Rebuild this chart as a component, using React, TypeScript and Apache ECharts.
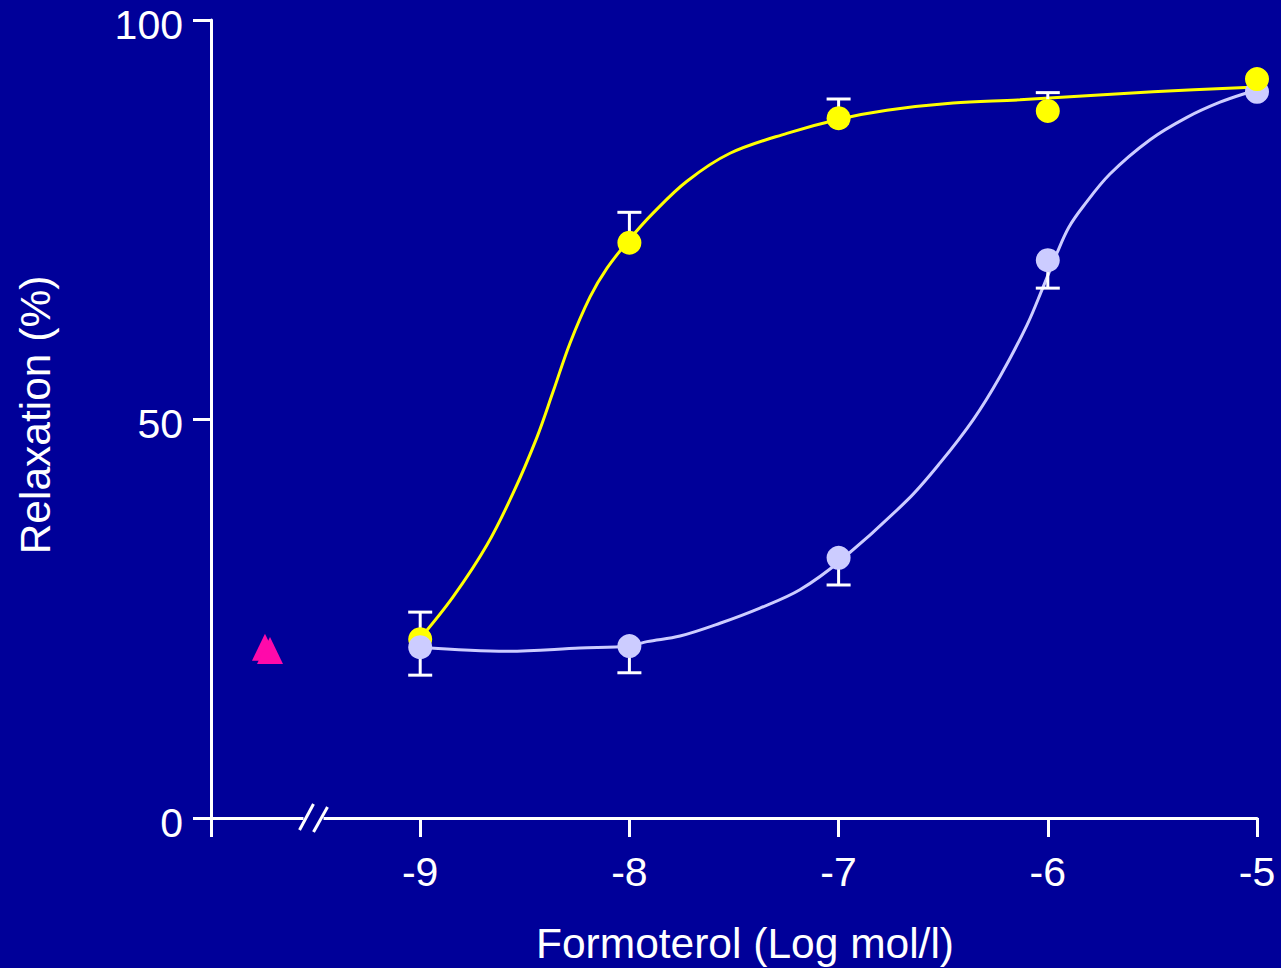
import React, { useEffect, useRef } from "react";
import * as echarts from "echarts";

// Mean points (log mol/l, % relaxation)
const doses = [-9, -8, -7, -6, -5];
const yellowMeans = [22.4, 72.1, 87.7, 88.6, 92.6];
const yellowUpper = [25.8, 75.9, 90.1, 90.9, null];
const lavenderMeans = [21.4, 21.55, 32.6, 69.9, 91.0];
const lavenderLower = [17.9, 18.2, 29.2, 66.4, null];

// Fitted curves
const yellowCurveX = [-9, -8.843, -8.681, -8.556, -8.442, -8.365, -8.284, -8.188, -8.107, -8.0, -7.887, -7.725, -7.519, -7.247, -6.993, -6.769, -6.453, -6.133, -5.497, -5.0];
const yellowCurveY = [22.5, 27.7, 34.2, 40.7, 47.7, 53.4, 59.5, 65.3, 68.9, 72.5, 75.8, 79.8, 83.3, 85.8, 87.6, 88.7, 89.6, 90.0, 91.0, 91.6];
const lavenderCurveX = [-9, -8.585, -8.236, -8.0, -7.916, -7.758, -7.567, -7.376, -7.185, -6.989, -6.673, -6.515, -6.357, -6.229, -6.099, -6.023, -5.956, -5.9, -5.832, -5.703, -5.511, -5.335, -5.177, -5.033, -5.0];
const lavenderCurveY = [21.4, 20.9, 21.3, 21.55, 22.1, 22.8, 24.4, 26.3, 28.6, 32.3, 39.8, 44.5, 49.9, 55.3, 61.8, 66.5, 70.8, 74.0, 76.6, 80.7, 85.0, 87.8, 89.7, 91.0, 91.2];

// Baseline (triangle markers)
const baselineX = [-9.742, -9.718];
const baselineY = [21.4, 21.0];

const xTicks = [-10, -9, -8, -7, -6, -5];
const yTicks = [0, 50, 100];

const BG = "#000099";
const YELLOW = "#ffff00";
const LAVENDER = "#ccccff";
const MAGENTA = "#ff0aaa";
const FONT = "'Liberation Sans', Arial, sans-serif";

export default function App() {
  const ref = useRef<HTMLDivElement>(null);
  useEffect(() => {
    if (!ref.current) return;
    const chart = echarts.init(ref.current, undefined, { renderer: "svg" });

    const zip = (xs: number[], ys: (number | null)[]) =>
      xs.map((x, i) => [x, ys[i]]).filter((p) => p[1] != null);

    const errData = (means: number[], bounds: (number | null)[]) =>
      doses
        .map((d, i) => [d, means[i], bounds[i]])
        .filter((p) => p[2] != null);

    const renderErr = (params: any, api: any) => {
      const x = api.value(0);
      const m = api.coord([x, api.value(1)]);
      const b = api.coord([x, api.value(2)]);
      const half = 12;
      const style = { stroke: "#ffffff", lineWidth: 3 };
      return {
        type: "group",
        children: [
          { type: "line", shape: { x1: m[0], y1: m[1], x2: b[0], y2: b[1] }, style },
          { type: "line", shape: { x1: b[0] - half, y1: b[1], x2: b[0] + half, y2: b[1] }, style },
        ],
      };
    };

    const lavPoints = zip(doses, lavenderMeans);

    chart.setOption({
      animation: false,
      backgroundColor: BG,
      grid: { left: 211, top: 20, right: 24, bottom: 150, containLabel: false },
      xAxis: {
        type: "value",
        min: xTicks[0],
        max: xTicks[xTicks.length - 1],
        interval: 1,
        axisLine: { show: true, lineStyle: { color: "#ffffff", width: 3 } },
        axisTick: { show: true, length: 19, lineStyle: { color: "#ffffff", width: 3 } },
        axisLabel: {
          color: "#ffffff",
          fontSize: 41,
          fontFamily: FONT,
          margin: 33,
          formatter: (v: number) => (v === xTicks[0] ? "" : String(v)),
        },
        splitLine: { show: false },
      },
      yAxis: {
        type: "value",
        min: yTicks[0],
        max: yTicks[yTicks.length - 1],
        interval: 50,
        axisLine: { show: true, lineStyle: { color: "#ffffff", width: 3 } },
        axisTick: { show: true, length: 18, lineStyle: { color: "#ffffff", width: 3 } },
        axisLabel: { show: false },
        splitLine: { show: false },
      },
      series: [
        {
          type: "line",
          data: zip(yellowCurveX, yellowCurveY),
          smooth: 0.35,
          showSymbol: false,
          lineStyle: { color: YELLOW, width: 3 },
          z: 2,
        },
        {
          type: "line",
          data: zip(lavenderCurveX, lavenderCurveY),
          smooth: 0.35,
          showSymbol: false,
          lineStyle: { color: LAVENDER, width: 3 },
          z: 2,
        },
        {
          type: "custom",
          renderItem: renderErr,
          data: errData(yellowMeans, yellowUpper),
          z: 3,
        },
        {
          type: "custom",
          renderItem: renderErr,
          data: errData(lavenderMeans, lavenderLower),
          z: 3,
        },
        {
          type: "scatter",
          data: lavPoints.slice(lavPoints.length - 1),
          symbol: "circle",
          symbolSize: 24,
          itemStyle: { color: LAVENDER, opacity: 1 },
          z: 4,
        },
        {
          type: "scatter",
          data: zip(doses, yellowMeans),
          symbol: "circle",
          symbolSize: 24,
          itemStyle: { color: YELLOW, opacity: 1 },
          z: 5,
        },
        {
          type: "scatter",
          data: lavPoints.slice(0, lavPoints.length - 1),
          symbol: "circle",
          symbolSize: 24,
          itemStyle: { color: LAVENDER, opacity: 1 },
          z: 6,
        },
        {
          type: "scatter",
          data: zip(baselineX, baselineY),
          symbol: "triangle",
          symbolSize: [26, 27],
          itemStyle: { color: MAGENTA, opacity: 1 },
          z: 6,
        },
      ],
    });

    const origin = chart.convertToPixel({ gridIndex: 0 }, [-9.51, 0]) as number[];
    const cx = origin[0];
    const cy = origin[1];
    const yLabels = yTicks.map((t) => {
      const p = chart.convertToPixel({ gridIndex: 0 }, [-10, t]) as number[];
      return {
        type: "text",
        x: p[0] - 28,
        y: p[1] + 5,
        style: {
          text: String(t),
          fill: "#ffffff",
          font: `41px ${FONT}`,
          align: "right",
          verticalAlign: "middle",
        },
        z: 101,
      };
    });
    chart.setOption({
      graphic: [
        {
          type: "rect",
          shape: { x: cx - 10, y: cy - 4, width: 20, height: 8 },
          style: { fill: BG },
          z: 100,
        },
        {
          type: "line",
          shape: { x1: cx - 14, y1: cy + 12, x2: cx, y2: cy - 14 },
          style: { stroke: "#ffffff", lineWidth: 3 },
          z: 101,
        },
        {
          type: "line",
          shape: { x1: cx, y1: cy + 14, x2: cx + 14, y2: cy - 11 },
          style: { stroke: "#ffffff", lineWidth: 3 },
          z: 101,
        },
        ...yLabels,
        {
          type: "text",
          x: 745,
          y: 943,
          style: {
            text: "Formoterol (Log mol/l)",
            fill: "#ffffff",
            font: `42.5px ${FONT}`,
            align: "center",
            verticalAlign: "middle",
          },
          z: 101,
        },
        {
          type: "text",
          x: 35,
          y: 415,
          rotation: Math.PI / 2,
          style: {
            text: "Relaxation (%)",
            fill: "#ffffff",
            font: `42.5px ${FONT}`,
            align: "center",
            verticalAlign: "middle",
          },
          z: 101,
        },
      ],
    });

    return () => chart.dispose();
  }, []);

  return (
    <div
      ref={ref}
      style={{ position: "absolute", left: 0, top: 0, width: 1281, height: 968 }}
    />
  );
}
